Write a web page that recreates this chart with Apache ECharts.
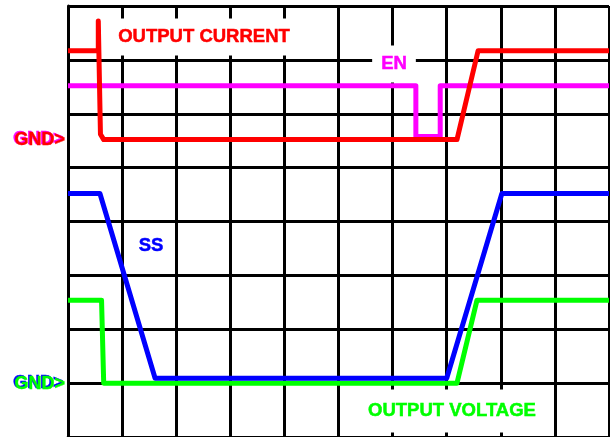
<!DOCTYPE html>
<html>
<head>
    <meta charset="utf-8">
    <title>Soft-start waveforms</title>
    <script src="https://cdn.jsdelivr.net/npm/echarts@6/dist/echarts.min.js"></script>
    <style>
        body { margin: 0; background: #fff; }
    </style>
</head>
<body>
    <div id="scope" style="width: 610px; height: 437px;"></div>
    <script>
        // traces, x in divisions (0..10), y in divisions (0..8)
        var outputCurrent = [[0, 7.17], [0.56, 7.17], [0.56, 7.72], [0.6, 5.62], [0.66, 5.52], [7.19, 5.52], [7.58, 7.17], [10, 7.17]];
        var enSignal = [[0, 6.52], [6.43, 6.52], [6.43, 5.58], [6.88, 5.58], [6.88, 6.52], [10, 6.52]];
        var ssSignal = [[0, 4.52], [0.59, 4.52], [1.61, 1.09], [7.0, 1.09], [8.02, 4.52], [10, 4.52]];
        var outputVoltage = [[0, 2.54], [0.62, 2.54], [0.66, 1.0], [7.19, 1.0], [7.56, 2.54], [10, 2.54]];

        var FAMILY = 'Liberation Sans';

        var chart = echarts.init(document.getElementById('scope'));

        function trace(name, data, color, z) {
            return {
                name: name,
                type: 'line',
                data: data,
                symbol: 'none',
                z: z,
                lineStyle: { color: color, width: 5, join: 'round' }
            };
        }

        function label(text, x, y, color, pad) {
            return {
                type: 'text',
                x: x,
                y: y,
                z: 100,
                style: {
                    text: text,
                    fill: color,
                    stroke: color,
                    lineWidth: 0.5,
                    fontFamily: FAMILY,
                    fontWeight: 'bold',
                    fontSize: 18.5,
                    align: 'center',
                    verticalAlign: 'middle',
                    backgroundColor: pad ? '#fff' : null,
                    padding: pad || 0
                }
            };
        }

        function gnd(x, y, front, back) {
            var base = { text: 'GND>', fontFamily: FAMILY, fontWeight: 'bold', fontSize: 18, align: 'right', verticalAlign: 'middle', lineWidth: 0.4 };
            return [
                { type: 'text', x: x - 1.5, y: y - 1, z: 100, style: Object.assign({ fill: back, stroke: back }, base) },
                { type: 'text', x: x, y: y, z: 101, style: Object.assign({ fill: front, stroke: front }, base) }
            ];
        }

        var options = {
            animation: false,
            backgroundColor: '#fff',
            grid: { left: 68, top: 6, width: 541, height: 432 },
            xAxis: {
                type: 'value', min: 0, max: 10, interval: 1,
                axisLine: { show: true, lineStyle: { color: '#000', width: 3 } },
                axisTick: { show: false },
                axisLabel: { show: false },
                splitLine: { show: true, lineStyle: { color: '#000', width: 3 } }
            },
            yAxis: {
                type: 'value', min: 0, max: 8, interval: 1,
                axisLine: { show: true, lineStyle: { color: '#000', width: 3 } },
                axisTick: { show: false },
                axisLabel: { show: false },
                splitLine: { show: true, lineStyle: { color: '#000', width: 3 } }
            },
            series: [
                trace('EN', enSignal, '#ff00ff', 2),
                trace('OUTPUT CURRENT', outputCurrent, '#ff0000', 3),
                trace('OUTPUT VOLTAGE', outputVoltage, '#00ff00', 4),
                trace('SS', ssSignal, '#0000ff', 5)
            ],
            graphic: [
                label('OUTPUT CURRENT', 204, 37, '#ff0000', [9, 10]),
                label('EN', 394, 64, '#ff00ff', [9, 9]),
                label('SS', 151, 246, '#0000ff', null),
                label('OUTPUT VOLTAGE', 452, 411, '#00ff00', [12, 12])
            ].concat(gnd(65, 140, '#ff0000', '#ff00ff'), gnd(65, 384, '#00ff00', '#0000ff'))
        };

        chart.setOption(options);
    </script>
</body>
</html>
